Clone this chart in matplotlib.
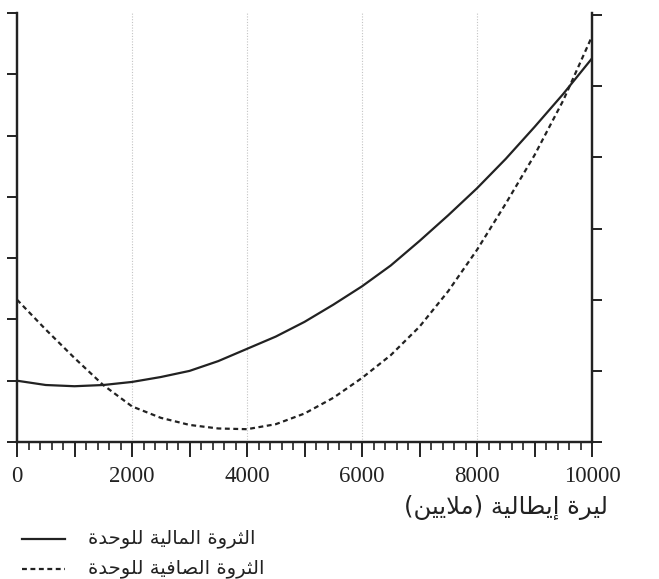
import matplotlib
matplotlib.use("Agg")
import matplotlib.pyplot as plt
from matplotlib.lines import Line2D
from matplotlib.ticker import MultipleLocator, FuncFormatter

# data (x in millions of lire)
x_fin = [0, 500, 1000, 1500, 2000, 2500, 3000, 3500, 4000, 4500, 5000,
         5500, 6000, 6500, 7000, 7500, 8000, 8500, 9000, 9500, 10000]
wealth_fin = [1.0, 0.93, 0.91, 0.93, 0.98, 1.06, 1.16, 1.32, 1.52, 1.72, 1.96,
              2.24, 2.54, 2.88, 3.28, 3.7, 4.14, 4.62, 5.14, 5.68, 6.26]   # left scale (0-7)

x_net = [0, 500, 1000, 1500, 2000, 2500, 3000, 3500, 4000, 4500, 5000,
         5500, 6000, 6500, 7000, 7500, 8000, 8500, 9000, 9500, 10000]
wealth_net = [2.0, 1.58, 1.18, 0.8, 0.5, 0.34, 0.24, 0.19, 0.18, 0.25, 0.4,
              0.62, 0.9, 1.22, 1.62, 2.12, 2.7, 3.35, 4.03, 4.8, 5.7]        # right scale (0-6)

x_ticks = [0, 2000, 4000, 6000, 8000, 10000]
grid_x = [2000, 4000, 6000, 8000]

label_x = "ليرة إيطالية (ملايين)"
label_fin = "الثروة المالية للوحدة"
label_net = "الثروة الصافية للوحدة"


# matplotlib does no arabic shaping, so do it by hand with presentation forms
FORMS = {
    'ا': ('\uFE8D', '\uFE8E', None, None),
    'إ': ('\uFE87', '\uFE88', None, None),
    'ل': ('\uFEDD', '\uFEDE', '\uFEDF', '\uFEE0'),
    'ي': ('\uFEF1', '\uFEF2', '\uFEF3', '\uFEF4'),
    'ر': ('\uFEAD', '\uFEAE', None, None),
    'ة': ('\uFE93', '\uFE94', None, None),
    'ط': ('\uFEC1', '\uFEC2', '\uFEC3', '\uFEC4'),
    'م': ('\uFEE1', '\uFEE2', '\uFEE3', '\uFEE4'),
    'ث': ('\uFE99', '\uFE9A', '\uFE9B', '\uFE9C'),
    'و': ('\uFEED', '\uFEEE', None, None),
    'ح': ('\uFEA1', '\uFEA2', '\uFEA3', '\uFEA4'),
    'د': ('\uFEA9', '\uFEAA', None, None),
    'ص': ('\uFEB9', '\uFEBA', '\uFEBB', '\uFEBC'),
    'ف': ('\uFED1', '\uFED2', '\uFED3', '\uFED4'),
    'ن': ('\uFEE5', '\uFEE6', '\uFEE7', '\uFEE8'),
}
LAM_ALEF = {'ا': ('\uFEFB', '\uFEFC'), 'إ': ('\uFEF9', '\uFEFA')}


def shape(s):
    out = []
    i = 0
    while i < len(s):
        c = s[i]
        if c not in FORMS:
            out.append(c)
            i += 1
            continue
        prev = s[i - 1] if i > 0 else ''
        jp = prev in FORMS and FORMS[prev][2] is not None
        nxt = s[i + 1] if i + 1 < len(s) else ''
        if c == 'ل' and nxt in LAM_ALEF:
            out.append(LAM_ALEF[nxt][1 if jp else 0])
            i += 2
            continue
        jn = FORMS[c][2] is not None and nxt in FORMS
        iso, fin, ini, med = FORMS[c]
        if jp and jn:
            out.append(med)
        elif jp:
            out.append(fin)
        elif jn:
            out.append(ini)
        else:
            out.append(iso)
        i += 1
    vis = ''.join(reversed(out))
    return vis.translate(str.maketrans('()', ')('))


plt.rcParams['font.family'] = ['Liberation Serif']
ink = '#222222'

fig = plt.figure(figsize=(6.59, 5.79), dpi=100)
ax = fig.add_axes([17 / 659, 137 / 579, 575 / 659, 429 / 579])
ax2 = ax.twinx()

for gx in grid_x:
    ax.axvline(gx, color='#c4c4c4', lw=0.8, ls=(0, (1, 1.5)), zorder=0)

ax.plot(x_fin, wealth_fin, color=ink, lw=1.6, solid_joinstyle='round')
ax2.plot(x_net, wealth_net, color=ink, lw=1.6, ls=(0, (2.2, 1.6)))

ax.set_xlim(0, 10000)
ax.set_ylim(0, 7)
ax2.set_ylim(0, 6 * 429 / 427)
ax.set_yticks(range(8))
ax2.set_yticks(range(7))
ax.set_yticklabels([])
ax2.set_yticklabels([])

ax.xaxis.set_major_locator(MultipleLocator(1000))
ax.xaxis.set_minor_locator(MultipleLocator(200))
ax.xaxis.set_major_formatter(FuncFormatter(lambda v, p: f"{int(v)}" if int(v) in x_ticks else ""))
ax.tick_params(axis='x', which='major', length=11, width=1.4, color=ink, labelsize=16.5, pad=6, labelcolor=ink)
ax.tick_params(axis='x', which='minor', length=6, width=1.2, color=ink)
ax.tick_params(axis='y', length=7, width=1.4, color=ink)
ax2.tick_params(axis='y', length=7, width=1.4, color=ink)

for a in (ax, ax2):
    a.spines['top'].set_visible(False)
    for side in ('left', 'right', 'bottom'):
        a.spines[side].set_linewidth(1.6)
        a.spines[side].set_color(ink)

arab = ['DejaVu Sans']
fig.text(608 / 659, 1 - 508 / 579, shape(label_x), ha='right', va='center', fontsize=17.5, family=arab, color=ink)

for ypx, ls, lab in [(539, '-', label_fin), (569, (0, (2.2, 1.6)), label_net)]:
    yf = 1 - ypx / 579
    fig.add_artist(Line2D([22 / 659, 65 / 659], [yf, yf], color=ink, lw=1.6, ls=ls, transform=fig.transFigure))
    fig.text(88 / 659, yf, shape(lab), ha='left', va='center', fontsize=14, family=arab, color=ink)

fig.savefig('out.png', dpi=100)
